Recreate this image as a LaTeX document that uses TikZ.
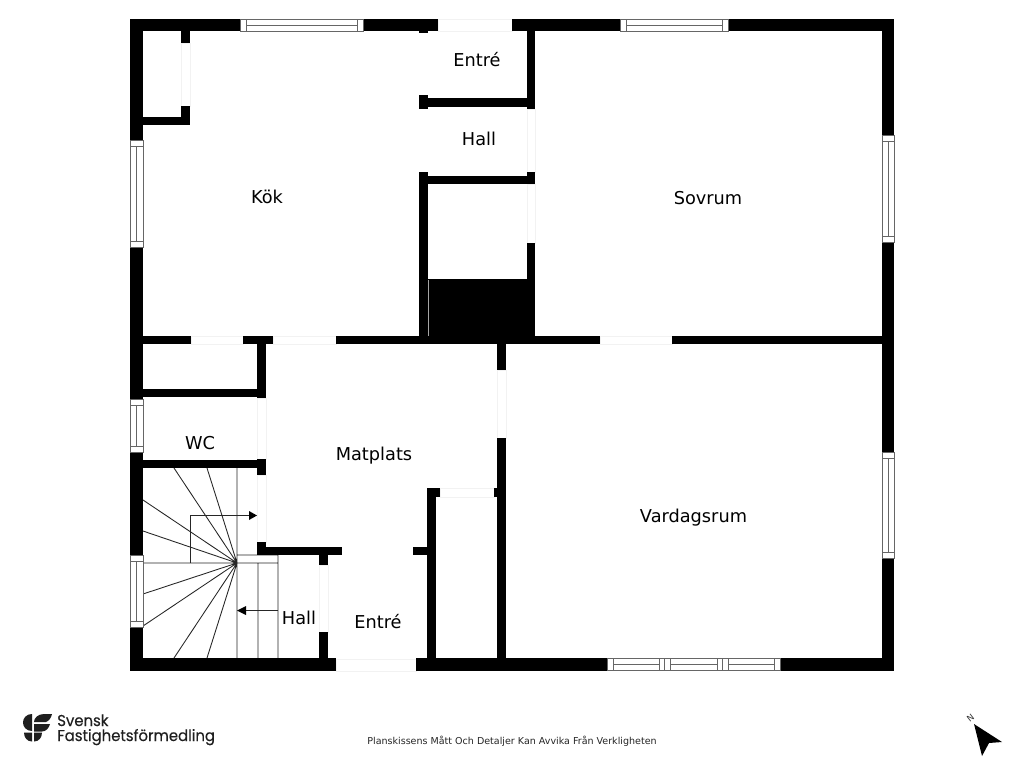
\documentclass[tikz,border=0pt]{standalone}
\usepackage{fontspec}
\setmainfont{DejaVu Sans}
\newfontfamily\logofont[FakeStretch=0.945,FakeBold=0.25]{Poppins}
\newcommand{\wl}[4]{\fill[wallfill] (#1,#2) rectangle (#3,#4);}
\newcommand{\gp}[4]{\draw[doorgap] (#1,#2) rectangle (#3,#4);}
% horizontal window: x1 x2 y1 y2
\newcommand{\hwin}[4]{\draw[winline,fill=white] (#1,#3) rectangle (#2,#4);
  \draw[winline] (#1+6,#3) -- (#1+6,#4) (#2-6,#3) -- (#2-6,#4) (#1+6,#3/2+#4/2) -- (#2-6,#3/2+#4/2);}
% vertical window
\newcommand{\vwin}[4]{\draw[winline,fill=white] (#1,#3) rectangle (#2,#4);
  \draw[winline] (#1,#3+6) -- (#2,#3+6) (#1,#4-6) -- (#2,#4-6) (#1/2+#2/2,#3+6) -- (#1/2+#2/2,#4-6);}
\tikzset{
  wallfill/.style={fill=black},
  doorgap/.style={draw=black!5,line width=0.4pt,fill=white},
  winline/.style={draw=black!60,line width=0.7pt},
  stairline/.style={draw=black!85,line width=0.65pt},
  roomlabel/.style={font=\fontsize{13.3}{15}\selectfont,text=black,inner sep=0pt,anchor=base},
}
\begin{document}
\begin{tikzpicture}[x=0.75pt,y=-0.75pt]
\useasboundingbox (0,0) rectangle (1024,768);
\fill[white] (0,0) rectangle (1024,768);
% door openings
\gp{438}{19}{512}{31}
\gp{181}{43}{190}{106}
\gp{527}{109}{535}{172}
\gp{527}{184}{535}{243}
\gp{191}{336}{243}{344}
\gp{273}{336}{336}{344}
\gp{600}{336}{672}{344}
\gp{497}{370}{506}{438}
\gp{257}{398}{266}{459}
\gp{257}{475}{266}{542}
\gp{319}{565}{328}{632}
\gp{440}{488}{494}{497}
\gp{336}{659}{416}{671}
% stairs
\draw[stairline] (237,563) -- (174,468) (237,563) -- (207,468)
  (237,563) -- (143,500) (237,563) -- (143,531) (237,563) -- (143,563)
  (237,563) -- (143,594) (237,563) -- (143,626)
  (237,563) -- (174,658) (237,563) -- (207,658)
  (237,468) -- (237,658) (258,563) -- (258,658) (278,555) -- (278,658)
  (237,555) -- (278,555) (237,563) -- (278,563);
\draw[stairline] (190.5,563) -- (190.5,515.5) -- (250,515.5);
\fill[black] (257,515.5) -- (249,511) -- (249,520) -- cycle;
\draw[stairline] (278,610.5) -- (245,610.5);
\fill[black] (237,610.5) -- (246,606) -- (246,615) -- cycle;
% outer walls
\wl{130}{19}{240}{31}\wl{363}{19}{438}{31}\wl{512}{19}{620}{31}\wl{728}{19}{894}{31}
\wl{130}{19}{143}{140}\wl{130}{247}{143}{399}\wl{130}{452}{143}{555}\wl{130}{627}{143}{671}
\wl{882}{19}{894}{135}\wl{882}{242}{894}{452}\wl{882}{558}{894}{671}
\wl{130}{658}{336}{671}\wl{416}{658}{607}{671}\wl{780}{658}{894}{671}
% cross wall
\wl{130}{336}{191}{344}\wl{243}{336}{273}{344}\wl{336}{336}{600}{344}\wl{672}{336}{882}{344}
% closet upper left
\wl{181}{31}{190}{43}\wl{181}{106}{190}{125}\wl{143}{117}{190}{125}
% entry and hall block
\wl{419}{31}{428}{33}\wl{419}{95}{428}{109}\wl{428}{98}{535}{107}
\wl{527}{31}{535}{109}\wl{419}{176}{535}{184}\wl{527}{172}{535}{184}
\wl{419}{172}{428}{337}\wl{527}{243}{535}{337}\wl{428}{279}{535}{337}
\draw[black!35,line width=0.5pt] (428,280) -- (428,336);
% lower walls
\wl{257}{344}{266}{398}\wl{143}{389}{266}{397}
\wl{143}{460}{266}{468}\wl{257}{459}{266}{475}
\wl{257}{542}{266}{555}\wl{257}{547}{342}{555}
\wl{319}{555}{328}{565}\wl{319}{632}{328}{659}
\wl{497}{344}{506}{370}\wl{497}{438}{506}{659}
\wl{427}{488}{436}{659}\wl{427}{488}{440}{497}\wl{494}{488}{497}{497}
\wl{413}{547}{427}{555}
% windows
\hwin{240}{363}{19}{31}
\hwin{620}{728}{19}{31}
\draw[winline,fill=white] (607,658) rectangle (780,670);
\draw[winline] (613,658) -- (613,670) (659,658) -- (659,670) (664,658) -- (664,670)
  (670,658) -- (670,670) (717,658) -- (717,670) (722,658) -- (722,670)
  (728,658) -- (728,670) (774,658) -- (774,670)
  (613,664) -- (659,664) (670,664) -- (717,664) (728,664) -- (774,664);
\vwin{130}{143}{140}{247}
\vwin{130}{143}{399}{452}
\vwin{130}{143}{555}{627}
\vwin{882}{894}{135}{242}
\vwin{882}{894}{452}{558}
% room labels
\node[roomlabel] (kok) at (267,203) {Kök};
\node[roomlabel] (entre1) at (477,66) {Entré};
\node[roomlabel] (hall1) at (479,145) {Hall};
\node[roomlabel] (sovrum) at (708,204.5) {Sovrum};
\node[roomlabel] (matplats) at (374,460) {Matplats};
\node[roomlabel] (wc) at (200,449.5) {WC};
\node[roomlabel] (vardagsrum) at (693.5,522) {Vardagsrum};
\node[roomlabel] (hall2) at (299,624) {Hall};
\node[roomlabel] (entre2) at (378,628) {Entré};
% footer
\node[font=\fontsize{7.15}{9}\selectfont,inner sep=0pt,text=black!85] (note) at (512,741.5) {Planskissens Mått Och Detaljer Kan Avvika Från Verkligheten};
% logo
\definecolor{logoc}{gray}{0.12}
\fill[logoc] (32,714) .. controls (26.5,714) and (23,718) .. (23,722.5) .. controls (23,727) and (26.5,731) .. (32,731) -- cycle;
\fill[logoc] (24,732.5) -- (32,732.5) -- (32,741.5) .. controls (27,741.5) and (24,737.5) .. (24,732.5) -- cycle;
\fill[logoc] (52,714) -- (44,714) .. controls (38,714) and (34,718) .. (34,722) -- (46,722) .. controls (49,721) and (51,718) .. (52,714) -- cycle;
\fill[logoc] (50,724) -- (34,724) -- (34,731.5) -- (42,731.5) .. controls (46,731.5) and (49,728) .. (50,724) -- cycle;
\fill[logoc] (34,732.5) -- (42,732.5) .. controls (42,737.5) and (39,741.5) .. (34,741.5) -- cycle;
\node[font=\logofont\fontsize{11.8}{13}\selectfont,anchor=base west,inner sep=0pt,text=logoc] (logo1) at (57,726) {Svensk};
\node[font=\logofont\fontsize{11.8}{13}\selectfont,anchor=base west,inner sep=0pt,text=logoc] (logo2) at (57,741) {Fastighetsförmedling};
% north arrow
\fill[black] (974,724) -- (1002,742) -- (989,743) -- (982,756) -- cycle;
\node[font=\fontsize{6.5}{7}\selectfont,rotate=38,inner sep=0pt,text=black!80] (north) at (970.5,718.5) {N};
\end{tikzpicture}
\end{document}
